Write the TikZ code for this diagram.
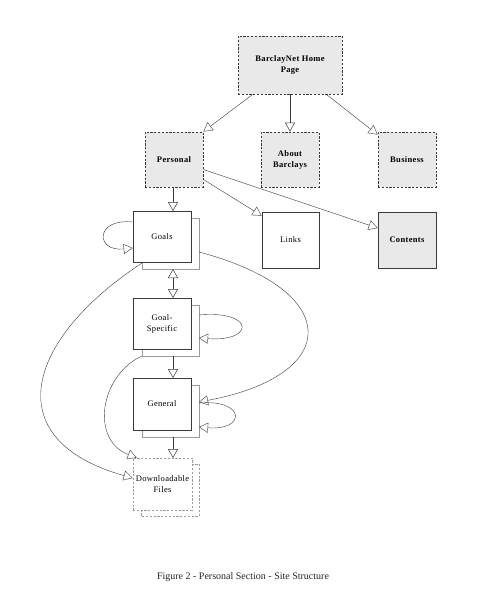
\documentclass[tikz,border=0pt]{standalone}
\usepackage{fontspec}
\setmainfont{Liberation Serif}
\newfontfamily\boxfont[LetterSpace=4]{Liberation Serif}
\usetikzlibrary{arrows.meta,calc}
\definecolor{boxgray}{HTML}{E9E9E9}
\definecolor{edgec}{HTML}{3A3A3A}
\definecolor{shadc}{HTML}{9A9A9A}
\tikzset{
  pagebox/.style={draw=edgec, line width=0.8pt, fill=boxgray, dash pattern=on 2.2pt off 1.6pt,
    minimum width=58pt, minimum height=55pt, align=center, inner sep=1pt,
    font=\boxfont\fontsize{8.5}{11}\selectfont\bfseries},
  plainbox/.style={draw=edgec, line width=0.7pt, fill=white, minimum width=58pt,
    minimum height=51pt, align=center, inner sep=1pt, font=\boxfont\fontsize{8.5}{11}\selectfont},
  shadbox/.style={draw=shadc, line width=0.7pt, fill=white},
  conn/.style={draw=edgec, line width=0.4pt, -{Triangle[open, length=9pt, width=10pt]}},
  thick conn/.style={draw=edgec, line width=1pt, -{Triangle[open, length=9pt, width=10pt, line width=0.5pt]}},
}
\begin{document}
\begin{tikzpicture}[x=1pt,y=-1pt]
\path[use as bounding box] (0,0) rectangle (477,600);
\fill[white] (0,0) rectangle (477,600);

% top row
\node[pagebox, minimum width=104pt, minimum height=58pt] (home) at (290,65) {BarclayNet Home\\Page};
\node[pagebox] (personal) at (174,159.5) {Personal};
\node[pagebox] (about) at (290,159.5) {About\\Barclays};
\node[pagebox] (business) at (407,159.5) {Business};

% second row
\node[plainbox, minimum width=57pt, minimum height=56pt] (links) at (290.5,240) {Links};
\node[plainbox, fill=boxgray, minimum height=56pt, font=\boxfont\fontsize{8.5}{11}\selectfont\bfseries] (contents) at (407,240) {Contents};

% shadows
\draw[shadbox] (142,218) rectangle (199,269);
\draw[shadbox] (142,305) rectangle (199,356);
\draw[shadbox] (142,385) rectangle (199,437);
\draw[shadc, line width=0.7pt, dash pattern=on 2.2pt off 1.6pt, fill=white] (141,464) rectangle (199,516);

\node[plainbox] (goals) at (162,236.5) {Goals};
\node[plainbox] (gs) at (162,323.5) {Goal-\\Specific};
\node[plainbox, minimum height=52pt] (general) at (162,404) {General};
\node[plainbox, draw=shadc, dash pattern=on 2.2pt off 1.6pt, minimum width=59pt, minimum height=52pt] (dl) at (162.5,484) {Downloadable\\Files};

% coordinates for vertical connectors
\coordinate (gsh) at (173,269);
\coordinate (gst) at (173,298);
\coordinate (gsb) at (173,356);
\coordinate (get) at (173,378);
\coordinate (geb) at (173,437);
\coordinate (dlt) at (173,458);
\coordinate (pbot) at (173,187);
\coordinate (gtop) at (173,211);

% connectors from home
\draw[conn] ([xshift=15pt]home.south west) -- (personal.north east);
\draw[thick conn] (home.south) -- (about.north);
\draw[conn] ([xshift=-16pt]home.south east) -- ([yshift=-3pt]business.north west);

% from personal
\draw[thick conn] (pbot) -- (gtop);
\draw[conn] ([yshift=-20pt]personal.east) -- ([yshift=-4pt]links.north west);
\draw[conn] ([yshift=-10pt]personal.east) -- ([yshift=12pt]contents.west);

% vertical chain
\draw[thick conn, {Triangle[open, length=9pt, width=10pt, line width=0.5pt]}-{Triangle[open, length=9pt, width=10pt, line width=0.5pt]}] (gsh) -- (gst);
\draw[thick conn] (gsb) -- (get);
\draw[thick conn] (geb) -- (dlt);

% self loops
\draw[conn] ([yshift=14.5pt]goals.west) .. controls (95,218) and (95,252) .. ([yshift=-11.5pt]goals.west);
\coordinate (gsl1) at (199,315);
\coordinate (gsl2) at (199,338);
\draw[conn] (gsl1) .. controls (255,310) and (255,342) .. (gsl2);
\coordinate (gel1) at (199,403);
\coordinate (gel2) at (199,427);
\draw[conn] (gel1) .. controls (246,399) and (246,431) .. (gel2);

% long curves
\coordinate (gor) at (199,252);
\coordinate (gen) at (199,402);
\draw[conn] (gor) .. controls (343,290) and (343,375) .. (gen);
\coordinate (gbl) at (142,263);
\draw[conn] (gbl) .. controls (25,340) and (-3,440) .. ([yshift=6pt]dl.west);
\coordinate (gsbl) at (142,356);
\draw[conn] (gsbl) .. controls (100,375) and (90,440) .. ([xshift=4pt]dl.north west);

% caption
\node[font=\fontsize{10}{12}\selectfont, text=black!85] (cap) at (243,577) {Figure 2 - Personal Section - Site Structure};
\end{tikzpicture}
\end{document}
